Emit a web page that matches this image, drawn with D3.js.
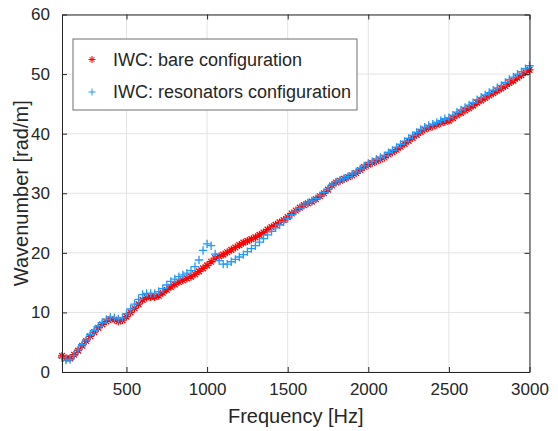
<!DOCTYPE html>
<html>
<head>
<meta charset="utf-8">
<title>IWC wavenumber</title>
<script src="https://cdn.jsdelivr.net/npm/d3@7"></script>
<style>
	body { margin: 0; background: #fff; }
	text { font-family: "Liberation Sans", Arial, sans-serif; fill: #262626; }
</style>
</head>
<body>
<div id="chart"></div>
<script>
// sample frequencies [Hz]
var freq = [
	100, 125, 150, 175, 200, 225, 250, 275, 300, 325, 350, 375, 400, 425, 450, 475,
	500, 525, 550, 575, 600, 625, 650, 675, 700, 725, 750, 775, 800, 825, 850, 875,
	900, 925, 950, 975, 1000, 1025, 1050, 1075, 1100, 1125, 1150, 1175, 1200, 1225, 1250, 1275,
	1300, 1325, 1350, 1375, 1400, 1425, 1450, 1475, 1500, 1525, 1550, 1575, 1600, 1625, 1650, 1675,
	1700, 1725, 1750, 1775, 1800, 1825, 1850, 1875, 1900, 1925, 1950, 1975, 2000, 2025, 2050, 2075,
	2100, 2125, 2150, 2175, 2200, 2225, 2250, 2275, 2300, 2325, 2350, 2375, 2400, 2425, 2450, 2475,
	2500, 2525, 2550, 2575, 2600, 2625, 2650, 2675, 2700, 2725, 2750, 2775, 2800, 2825, 2850, 2875,
	2900, 2925, 2950, 2975, 3000
];

// IWC: bare configuration [rad/m]
var bare = [
	2.7, 2.3, 2.3, 2.9, 3.6, 4.4, 5.2, 6.0, 6.7, 7.4, 8.0, 8.5, 8.9, 8.8, 8.5, 8.7,
	9.3, 10.0, 10.7, 11.4, 12.1, 12.5, 12.6, 12.6, 12.8, 13.3, 13.8, 14.3, 14.7, 15.1, 15.4, 15.7,
	16.0, 16.4, 16.9, 17.4, 17.9, 18.5, 19.1, 19.4, 19.7, 20.1, 20.5, 20.9, 21.3, 21.7, 22.0, 22.3,
	22.6, 23.0, 23.4, 23.9, 24.3, 24.7, 25.1, 25.5, 26.0, 26.6, 27.1, 27.6, 28.0, 28.3, 28.6, 29.0,
	29.5, 30.0, 30.6, 31.3, 31.8, 32.1, 32.4, 32.7, 33.0, 33.4, 33.9, 34.4, 34.8, 35.1, 35.4, 35.7,
	36.0, 36.5, 36.9, 37.3, 37.8, 38.3, 38.8, 39.3, 39.8, 40.3, 40.7, 41.0, 41.2, 41.5, 41.8, 42.0,
	42.2, 42.6, 43.1, 43.5, 43.9, 44.3, 44.7, 45.2, 45.6, 46.0, 46.4, 46.8, 47.2, 47.6, 48.0, 48.5,
	48.9, 49.4, 49.8, 50.3, 50.7
];

// IWC: resonators configuration [rad/m]
var resonators = [
	2.4, 2.0, 2.1, 2.8, 3.7, 4.6, 5.4, 6.3, 7.0, 7.7, 8.3, 8.8, 9.2, 9.1, 8.9, 9.1,
	9.8, 10.6, 11.4, 12.2, 13.0, 13.2, 13.2, 13.2, 13.5, 14.0, 14.6, 15.2, 15.6, 16.0, 16.3, 16.6,
	17.0, 17.7, 18.8, 20.4, 21.5, 21.2, 19.8, 18.7, 18.1, 18.1, 18.5, 18.9, 19.3, 19.7, 20.2, 20.7,
	21.2, 21.8, 22.4, 23.0, 23.6, 24.2, 24.7, 25.2, 25.8, 26.4, 27.0, 27.5, 28.0, 28.4, 28.7, 29.1,
	29.6, 30.1, 30.7, 31.4, 31.9, 32.2, 32.5, 32.8, 33.2, 33.6, 34.1, 34.6, 35.0, 35.3, 35.7, 36.0,
	36.3, 36.8, 37.2, 37.7, 38.2, 38.7, 39.2, 39.7, 40.2, 40.7, 41.1, 41.4, 41.6, 41.9, 42.2, 42.5,
	42.7, 43.1, 43.6, 44.0, 44.4, 44.8, 45.2, 45.7, 46.1, 46.5, 46.9, 47.3, 47.7, 48.1, 48.6, 49.1,
	49.5, 50.0, 50.4, 50.9, 51.4
];

var xTicks = [500, 1000, 1500, 2000, 2500, 3000];
var yTicks = [0, 10, 20, 30, 40, 50, 60];
var labels = ['IWC: bare configuration', 'IWC: resonators configuration'];

(function() {
	var width = 558, height = 431;
	var mLeft = 62, mRight = 529.5, mTop = 14.5, mBottom = 372;

	var x = d3.scaleLinear().domain([100, 3000]).range([mLeft, mRight]);
	var y = d3.scaleLinear().domain([0, 60]).range([mBottom, mTop]);

	var svg = d3.select('#chart').append('svg')
		.attr('width', width)
		.attr('height', height);

	svg.append('rect').attr('width', width).attr('height', height).attr('fill', '#fff');

	// grid
	var grid = svg.append('g').attr('stroke', '#e3e3e3').attr('stroke-width', 1);
	grid.selectAll('.gx').data(xTicks).enter().append('line')
		.attr('x1', function(d) { return x(d); }).attr('x2', function(d) { return x(d); })
		.attr('y1', mTop).attr('y2', mBottom);
	grid.selectAll('.gy').data(yTicks).enter().append('line')
		.attr('y1', function(d) { return y(d); }).attr('y2', function(d) { return y(d); })
		.attr('x1', mLeft).attr('x2', mRight);

	// markers
	function plusPath(r) { return 'M' + (-r) + ',0H' + r + 'M0,' + (-r) + 'V' + r; }
	function starPath(r) {
		var k = r * 0.72;
		return plusPath(r) + 'M' + (-k) + ',' + (-k) + 'L' + k + ',' + k + 'M' + (-k) + ',' + k + 'L' + k + ',' + (-k);
	}

	var series = [
		{ values: bare, color: '#ff0000', path: starPath(4), key: starPath(3.5) },
		{ values: resonators, color: '#1e9bff', path: plusPath(4.2), key: plusPath(3.5) }
	];

	series.forEach(function(s) {
		svg.append('g')
			.attr('fill', 'none')
			.attr('stroke', s.color)
			.attr('stroke-width', 1.3)
			.selectAll('path')
			.data(s.values)
			.enter().append('path')
			.attr('transform', function(d, i) { return 'translate(' + x(freq[i]) + ',' + y(d) + ')'; })
			.attr('d', s.path);
	});

	// axes (box with inward ticks on all sides)
	var fmt = d3.format('d');
	var xAxis = svg.append('g').attr('transform', 'translate(0,' + mBottom + ')')
		.call(d3.axisBottom(x).tickValues(xTicks).tickFormat(fmt).tickSizeInner(-5).tickSizeOuter(0).tickPadding(11));
	var yAxis = svg.append('g').attr('transform', 'translate(' + mLeft + ',0)')
		.call(d3.axisLeft(y).tickValues(yTicks).tickFormat(fmt).tickSizeInner(-5).tickSizeOuter(0).tickPadding(12));
	var xTop = svg.append('g').attr('transform', 'translate(0,' + mTop + ')')
		.call(d3.axisTop(x).tickValues(xTicks).tickSizeInner(-5).tickSizeOuter(0).tickFormat(''));
	var yRight = svg.append('g').attr('transform', 'translate(' + mRight + ',0)')
		.call(d3.axisRight(y).tickValues(yTicks).tickSizeInner(-5).tickSizeOuter(0).tickFormat(''));

	[xAxis, yAxis, xTop, yRight].forEach(function(a) {
		a.select('.domain').attr('stroke', '#262626');
		a.selectAll('.tick line').attr('stroke', '#262626');
		a.selectAll('.tick text').attr('fill', '#262626').style('font-size', '17px')
			.style('font-family', '"Liberation Sans", Arial, sans-serif');
	});

	// axis labels
	svg.append('text')
		.attr('x', (mLeft + mRight) / 2).attr('y', 423)
		.attr('text-anchor', 'middle')
		.style('font-size', '20px')
		.text('Frequency [Hz]');

	svg.append('text')
		.attr('transform', 'translate(28,' + (mTop + mBottom) / 2 + ') rotate(-90)')
		.attr('text-anchor', 'middle')
		.style('font-size', '20px')
		.text('Wavenumber [rad/m]');

	// legend
	var legend = svg.append('g');
	legend.append('rect')
		.attr('x', 73).attr('y', 39).attr('width', 284).attr('height', 71)
		.attr('fill', '#fff').attr('stroke', '#6e6e6e').attr('stroke-width', 1);

	var rows = legend.selectAll('.row').data(labels).enter().append('g')
		.attr('transform', function(d, i) { return 'translate(0,' + (59.5 + i * 32.5) + ')'; });
	rows.append('path')
		.attr('transform', 'translate(92,0)')
		.attr('d', function(d, i) { return series[i].key; })
		.attr('fill', 'none')
		.attr('stroke', function(d, i) { return series[i].color; });
	rows.append('text')
		.attr('x', 113).attr('y', 6)
		.style('font-size', '18px')
		.text(function(d) { return d; });
})();
</script>
</body>
</html>
